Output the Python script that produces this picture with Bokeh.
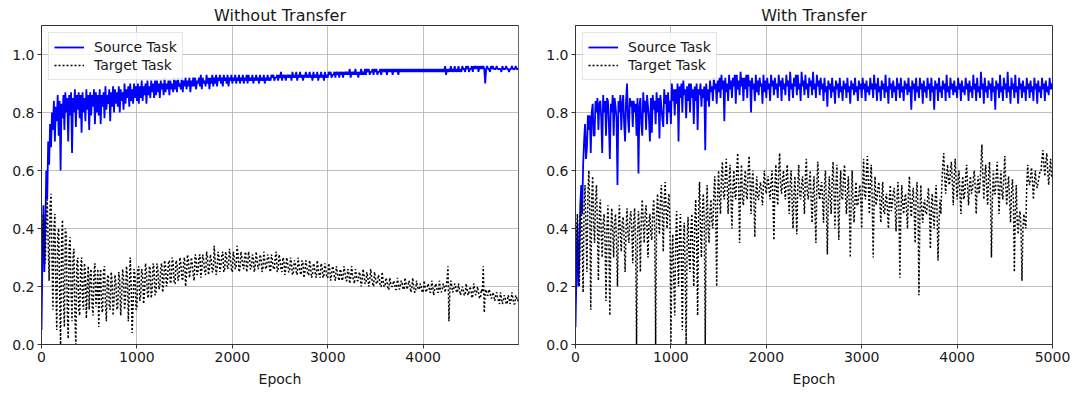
from bokeh.plotting import figure
from bokeh.layouts import row
from bokeh.models import Range1d, FixedTicker, PrintfTickFormatter
from bokeh.embed import file_html
from bokeh.resources import INLINE

STEP = 10  # epochs between stored samples

# ---- Without Transfer ----
left_source = [
    0.05, 0.30, 0.48, 0.25, 0.40, 0.60, 0.50, 0.70, 0.62, 0.76, 0.68, 0.80, 0.74, 0.84, 0.70, 0.82, 0.77, 0.86, 0.72, 0.84,
    0.60, 0.83, 0.78, 0.86, 0.74, 0.87, 0.80, 0.85, 0.70, 0.86, 0.79, 0.87, 0.66, 0.85, 0.80, 0.88, 0.75, 0.86, 0.81, 0.87,
    0.78, 0.86, 0.73, 0.87, 0.80, 0.85, 0.77, 0.88, 0.81, 0.86, 0.74, 0.87, 0.79, 0.86, 0.82, 0.88, 0.76, 0.87, 0.80, 0.86,
    0.79, 0.88, 0.76, 0.86, 0.82, 0.87, 0.78, 0.89, 0.81, 0.86, 0.83, 0.88, 0.77, 0.87, 0.82, 0.89, 0.80, 0.88, 0.83, 0.87,
    0.82, 0.89, 0.80, 0.88, 0.84, 0.87, 0.81, 0.90, 0.83, 0.88, 0.85, 0.89, 0.82, 0.90, 0.84, 0.88, 0.83, 0.90, 0.85, 0.89,
    0.84, 0.90, 0.83, 0.89, 0.85, 0.91, 0.84, 0.89, 0.86, 0.90, 0.83, 0.91, 0.86, 0.89, 0.85, 0.91, 0.87, 0.90, 0.85, 0.91,
    0.86, 0.91, 0.87, 0.90, 0.85, 0.91, 0.88, 0.90, 0.86, 0.92, 0.87, 0.90, 0.88, 0.91, 0.86, 0.91, 0.88, 0.90, 0.87, 0.92,
    0.88, 0.91, 0.87, 0.92, 0.89, 0.90, 0.88, 0.92, 0.87, 0.91, 0.89, 0.92, 0.88, 0.91, 0.89, 0.92, 0.87, 0.91, 0.89, 0.92,
    0.89, 0.92, 0.88, 0.91, 0.90, 0.92, 0.89, 0.93, 0.88, 0.92, 0.90, 0.91, 0.89, 0.93, 0.90, 0.92, 0.88, 0.92, 0.90, 0.93,
    0.89, 0.92, 0.90, 0.93, 0.89, 0.92, 0.91, 0.93, 0.90, 0.92, 0.89, 0.93, 0.91, 0.92, 0.90, 0.93, 0.89, 0.92, 0.91, 0.93,
    0.90, 0.92, 0.91, 0.93, 0.90, 0.92, 0.91, 0.93, 0.90, 0.92, 0.91, 0.93, 0.90, 0.92, 0.91, 0.93, 0.90, 0.93, 0.91, 0.92,
    0.91, 0.93, 0.90, 0.92, 0.91, 0.93, 0.91, 0.92, 0.90, 0.93, 0.91, 0.92, 0.91, 0.93, 0.90, 0.92, 0.91, 0.93, 0.91, 0.92,
    0.91, 0.93, 0.92, 0.93, 0.91, 0.92, 0.92, 0.93, 0.91, 0.93, 0.92, 0.94, 0.91, 0.93, 0.92, 0.93, 0.91, 0.93, 0.92, 0.93,
    0.92, 0.93, 0.91, 0.94, 0.92, 0.93, 0.92, 0.94, 0.91, 0.93, 0.92, 0.94, 0.92, 0.93, 0.91, 0.93, 0.92, 0.94, 0.92, 0.93,
    0.92, 0.94, 0.92, 0.93, 0.91, 0.94, 0.92, 0.93, 0.92, 0.94, 0.91, 0.93, 0.92, 0.94, 0.92, 0.93, 0.91, 0.94, 0.92, 0.93,
    0.92, 0.94, 0.93, 0.94, 0.92, 0.93, 0.93, 0.94, 0.92, 0.94, 0.93, 0.94, 0.92, 0.94, 0.93, 0.94, 0.92, 0.94, 0.93, 0.94,
    0.93, 0.94, 0.93, 0.95, 0.92, 0.94, 0.93, 0.94, 0.93, 0.95, 0.93, 0.94, 0.92, 0.94, 0.93, 0.95, 0.93, 0.94, 0.93, 0.95,
    0.93, 0.95, 0.94, 0.95, 0.93, 0.94, 0.94, 0.95, 0.93, 0.95, 0.94, 0.95, 0.93, 0.94, 0.94, 0.95, 0.93, 0.95, 0.94, 0.95,
    0.94, 0.95, 0.93, 0.95, 0.94, 0.95, 0.94, 0.95, 0.93, 0.95, 0.94, 0.95, 0.94, 0.95, 0.93, 0.95, 0.94, 0.95, 0.94, 0.95,
    0.94, 0.95, 0.94, 0.95, 0.94, 0.95, 0.94, 0.95, 0.94, 0.95, 0.94, 0.95, 0.94, 0.95, 0.94, 0.95, 0.94, 0.95, 0.94, 0.95,
    0.94, 0.95, 0.94, 0.95, 0.94, 0.95, 0.94, 0.95, 0.94, 0.95, 0.94, 0.95, 0.94, 0.95, 0.94, 0.95, 0.94, 0.95, 0.94, 0.95,
    0.94, 0.95, 0.94, 0.96, 0.93, 0.95, 0.94, 0.95, 0.94, 0.96, 0.94, 0.95, 0.94, 0.96, 0.94, 0.95, 0.94, 0.96, 0.94, 0.95,
    0.94, 0.96, 0.95, 0.95, 0.94, 0.96, 0.95, 0.96, 0.94, 0.95, 0.95, 0.96, 0.94, 0.96, 0.95, 0.96, 0.95, 0.96, 0.94, 0.96,
    0.95, 0.96, 0.95, 0.96, 0.95, 0.90, 0.95, 0.96, 0.95, 0.95, 0.94, 0.96, 0.95, 0.96, 0.95, 0.95, 0.95, 0.96, 0.95, 0.95,
    0.95, 0.95, 0.94, 0.96, 0.95, 0.95, 0.95, 0.96, 0.95, 0.95, 0.94, 0.95, 0.95, 0.96, 0.95, 0.95, 0.95, 0.96, 0.95, 0.95,
    0.95,
]
left_target = [
    0.30, 0.40, 0.45, 0.30, 0.28, 0.42, 0.50, 0.35, 0.22, 0.48, 0.52, 0.30, 0.12, 0.40, 0.45, 0.20, 0.05, 0.38, 0.40, 0.18,
    0.00, 0.35, 0.43, 0.15, 0.06, 0.40, 0.38, 0.12, 0.02, 0.34, 0.37, 0.18, 0.08, 0.30, 0.33, 0.10, 0.00, 0.28, 0.30, 0.12,
    0.10, 0.26, 0.30, 0.15, 0.12, 0.28, 0.25, 0.09, 0.20, 0.27, 0.12, 0.24, 0.26, 0.14, 0.10, 0.25, 0.28, 0.13, 0.18, 0.26,
    0.06, 0.22, 0.26, 0.12, 0.11, 0.25, 0.27, 0.14, 0.08, 0.23, 0.24, 0.13, 0.12, 0.25, 0.22, 0.10, 0.15, 0.24, 0.21, 0.12,
    0.13, 0.25, 0.22, 0.10, 0.16, 0.26, 0.23, 0.12, 0.15, 0.27, 0.24, 0.08, 0.18, 0.30, 0.20, 0.04, 0.14, 0.26, 0.24, 0.12,
    0.13, 0.26, 0.27, 0.15, 0.17, 0.26, 0.24, 0.14, 0.18, 0.28, 0.25, 0.17, 0.16, 0.27, 0.26, 0.16, 0.19, 0.28, 0.26, 0.17,
    0.18, 0.28, 0.26, 0.19, 0.20, 0.27, 0.28, 0.18, 0.21, 0.29, 0.27, 0.20, 0.22, 0.28, 0.29, 0.21, 0.22, 0.30, 0.28, 0.21,
    0.21, 0.29, 0.28, 0.22, 0.23, 0.30, 0.28, 0.23, 0.22, 0.29, 0.30, 0.20, 0.24, 0.31, 0.29, 0.23, 0.25, 0.30, 0.28, 0.24,
    0.22, 0.31, 0.30, 0.24, 0.25, 0.30, 0.31, 0.23, 0.26, 0.31, 0.29, 0.25, 0.24, 0.32, 0.30, 0.24, 0.26, 0.31, 0.29, 0.25,
    0.25, 0.34, 0.29, 0.24, 0.26, 0.32, 0.30, 0.25, 0.27, 0.31, 0.32, 0.25, 0.26, 0.32, 0.30, 0.26, 0.27, 0.33, 0.30, 0.26,
    0.25, 0.32, 0.30, 0.26, 0.27, 0.34, 0.31, 0.25, 0.26, 0.32, 0.30, 0.27, 0.26, 0.31, 0.32, 0.25, 0.27, 0.32, 0.30, 0.26,
    0.26, 0.31, 0.30, 0.25, 0.27, 0.32, 0.29, 0.26, 0.27, 0.31, 0.30, 0.25, 0.26, 0.32, 0.29, 0.26, 0.27, 0.31, 0.30, 0.26,
    0.25, 0.31, 0.29, 0.26, 0.26, 0.30, 0.32, 0.25, 0.26, 0.31, 0.29, 0.26, 0.25, 0.30, 0.29, 0.24, 0.26, 0.30, 0.28, 0.25,
    0.25, 0.30, 0.28, 0.24, 0.25, 0.29, 0.28, 0.25, 0.24, 0.30, 0.27, 0.25, 0.24, 0.29, 0.28, 0.23, 0.25, 0.29, 0.27, 0.24,
    0.24, 0.29, 0.27, 0.23, 0.24, 0.28, 0.27, 0.24, 0.23, 0.29, 0.26, 0.24, 0.23, 0.28, 0.27, 0.23, 0.24, 0.28, 0.26, 0.23,
    0.23, 0.28, 0.26, 0.22, 0.24, 0.27, 0.26, 0.23, 0.22, 0.27, 0.25, 0.23, 0.22, 0.26, 0.25, 0.22, 0.23, 0.27, 0.25, 0.22,
    0.22, 0.26, 0.25, 0.21, 0.23, 0.27, 0.24, 0.22, 0.21, 0.26, 0.24, 0.22, 0.22, 0.25, 0.24, 0.20, 0.22, 0.26, 0.24, 0.21,
    0.21, 0.25, 0.23, 0.20, 0.22, 0.26, 0.23, 0.21, 0.20, 0.25, 0.23, 0.21, 0.21, 0.24, 0.23, 0.20, 0.20, 0.25, 0.22, 0.20,
    0.20, 0.23, 0.22, 0.19, 0.19, 0.23, 0.21, 0.20, 0.20, 0.22, 0.21, 0.19, 0.19, 0.23, 0.21, 0.19, 0.20, 0.22, 0.21, 0.19,
    0.19, 0.23, 0.21, 0.19, 0.20, 0.22, 0.21, 0.18, 0.19, 0.23, 0.20, 0.18, 0.18, 0.22, 0.20, 0.19, 0.19, 0.21, 0.20, 0.18,
    0.18, 0.22, 0.20, 0.18, 0.19, 0.21, 0.20, 0.18, 0.18, 0.22, 0.20, 0.17, 0.19, 0.21, 0.20, 0.18, 0.18, 0.22, 0.19, 0.18,
    0.19, 0.21, 0.20, 0.18, 0.20, 0.22, 0.27, 0.08, 0.19, 0.22, 0.20, 0.18, 0.19, 0.21, 0.20, 0.18, 0.18, 0.21, 0.19, 0.17,
    0.18, 0.20, 0.19, 0.17, 0.17, 0.21, 0.19, 0.17, 0.18, 0.20, 0.19, 0.16, 0.17, 0.21, 0.19, 0.17, 0.18, 0.20, 0.18, 0.16,
    0.16, 0.19, 0.18, 0.27, 0.11, 0.18, 0.19, 0.17, 0.17, 0.19, 0.18, 0.16, 0.16, 0.18, 0.17, 0.15, 0.17, 0.18, 0.16, 0.15,
    0.14, 0.18, 0.16, 0.14, 0.15, 0.17, 0.16, 0.14, 0.14, 0.17, 0.16, 0.14, 0.15, 0.18, 0.16, 0.14, 0.14, 0.17, 0.16, 0.15,
    0.16,
]

# ---- With Transfer ----
right_source = [
    0.06, 0.25, 0.42, 0.20, 0.30, 0.48, 0.55, 0.45, 0.62, 0.70, 0.76, 0.64, 0.68, 0.79, 0.74, 0.79, 0.66, 0.80, 0.83, 0.72,
    0.72, 0.84, 0.80, 0.85, 0.74, 0.83, 0.84, 0.78, 0.66, 0.86, 0.80, 0.84, 0.72, 0.85, 0.84, 0.76, 0.64, 0.83, 0.80, 0.86,
    0.72, 0.85, 0.82, 0.78, 0.55, 0.84, 0.80, 0.86, 0.74, 0.83, 0.86, 0.76, 0.70, 0.84, 0.90, 0.78, 0.73, 0.85, 0.82, 0.84,
    0.75, 0.84, 0.80, 0.83, 0.72, 0.85, 0.59, 0.82, 0.85, 0.76, 0.72, 0.87, 0.80, 0.84, 0.74, 0.86, 0.82, 0.78, 0.70, 0.85,
    0.73, 0.86, 0.81, 0.84, 0.76, 0.87, 0.80, 0.85, 0.71, 0.86, 0.82, 0.78, 0.75, 0.88, 0.83, 0.86, 0.76, 0.87, 0.80, 0.84,
    0.76, 0.90, 0.84, 0.88, 0.79, 0.88, 0.83, 0.90, 0.70, 0.89, 0.85, 0.90, 0.80, 0.91, 0.86, 0.88, 0.78, 0.89, 0.84, 0.90,
    0.80, 0.90, 0.85, 0.88, 0.76, 0.89, 0.84, 0.90, 0.74, 0.88, 0.86, 0.90, 0.82, 0.88, 0.85, 0.89, 0.67, 0.90, 0.84, 0.88,
    0.82, 0.91, 0.87, 0.89, 0.84, 0.92, 0.88, 0.90, 0.83, 0.91, 0.87, 0.92, 0.85, 0.93, 0.88, 0.91, 0.77, 0.92, 0.87, 0.90,
    0.84, 0.93, 0.88, 0.91, 0.85, 0.92, 0.89, 0.93, 0.83, 0.93, 0.88, 0.91, 0.86, 0.94, 0.89, 0.92, 0.84, 0.92, 0.88, 0.93,
    0.85, 0.93, 0.89, 0.91, 0.80, 0.92, 0.88, 0.90, 0.84, 0.93, 0.87, 0.91, 0.86, 0.92, 0.89, 0.90, 0.83, 0.93, 0.87, 0.91,
    0.85, 0.92, 0.88, 0.90, 0.84, 0.93, 0.89, 0.91, 0.86, 0.92, 0.88, 0.90, 0.85, 0.93, 0.89, 0.91, 0.84, 0.92, 0.88, 0.90,
    0.86, 0.93, 0.89, 0.91, 0.84, 0.94, 0.88, 0.90, 0.85, 0.92, 0.89, 0.93, 0.86, 0.93, 0.88, 0.90, 0.84, 0.94, 0.89, 0.91,
    0.86, 0.93, 0.88, 0.90, 0.85, 0.92, 0.89, 0.91, 0.86, 0.94, 0.88, 0.90, 0.85, 0.93, 0.89, 0.91, 0.86, 0.92, 0.88, 0.90,
    0.84, 0.92, 0.87, 0.89, 0.82, 0.91, 0.88, 0.90, 0.85, 0.92, 0.87, 0.89, 0.83, 0.91, 0.88, 0.90, 0.85, 0.92, 0.87, 0.89,
    0.84, 0.91, 0.88, 0.90, 0.85, 0.92, 0.87, 0.89, 0.83, 0.91, 0.88, 0.90, 0.86, 0.92, 0.87, 0.89, 0.84, 0.91, 0.88, 0.90,
    0.85, 0.92, 0.88, 0.90, 0.84, 0.91, 0.87, 0.89, 0.86, 0.92, 0.88, 0.90, 0.85, 0.93, 0.88, 0.90, 0.84, 0.92, 0.87, 0.89,
    0.84, 0.91, 0.88, 0.90, 0.85, 0.93, 0.87, 0.89, 0.83, 0.92, 0.88, 0.90, 0.85, 0.91, 0.87, 0.89, 0.84, 0.92, 0.88, 0.90,
    0.85, 0.92, 0.87, 0.89, 0.84, 0.91, 0.88, 0.90, 0.86, 0.92, 0.87, 0.89, 0.81, 0.91, 0.88, 0.90, 0.84, 0.92, 0.87, 0.89,
    0.85, 0.92, 0.88, 0.90, 0.83, 0.91, 0.87, 0.89, 0.85, 0.92, 0.88, 0.90, 0.84, 0.92, 0.87, 0.89, 0.81, 0.91, 0.88, 0.90,
    0.84, 0.92, 0.87, 0.89, 0.85, 0.91, 0.88, 0.90, 0.84, 0.93, 0.87, 0.89, 0.85, 0.92, 0.88, 0.90, 0.86, 0.91, 0.87, 0.89,
    0.85, 0.92, 0.88, 0.90, 0.84, 0.91, 0.87, 0.89, 0.86, 0.92, 0.88, 0.90, 0.84, 0.91, 0.87, 0.89, 0.85, 0.93, 0.88, 0.90,
    0.84, 0.92, 0.87, 0.89, 0.85, 0.94, 0.88, 0.90, 0.83, 0.92, 0.87, 0.89, 0.85, 0.91, 0.88, 0.90, 0.84, 0.92, 0.87, 0.89,
    0.81, 0.91, 0.88, 0.90, 0.85, 0.93, 0.87, 0.89, 0.84, 0.92, 0.88, 0.90, 0.85, 0.94, 0.87, 0.89, 0.83, 0.92, 0.88, 0.90,
    0.85, 0.93, 0.87, 0.89, 0.83, 0.92, 0.88, 0.90, 0.85, 0.91, 0.87, 0.89, 0.84, 0.92, 0.88, 0.90, 0.85, 0.91, 0.87, 0.89,
    0.84, 0.92, 0.88, 0.90, 0.83, 0.91, 0.87, 0.89, 0.85, 0.92, 0.88, 0.90, 0.84, 0.91, 0.87, 0.89, 0.86, 0.92, 0.88, 0.90,
    0.88,
]
right_target = [
    0.25, 0.38, 0.45, 0.30, 0.20, 0.42, 0.50, 0.35, 0.18, 0.48, 0.55, 0.40, 0.25, 0.52, 0.60, 0.45, 0.12, 0.50, 0.58, 0.42,
    0.35, 0.50, 0.55, 0.40, 0.22, 0.45, 0.50, 0.38, 0.30, 0.42, 0.45, 0.35, 0.15, 0.40, 0.48, 0.36, 0.10, 0.38, 0.47, 0.40,
    0.30, 0.42, 0.45, 0.35, 0.20, 0.40, 0.48, 0.38, 0.32, 0.42, 0.44, 0.36, 0.25, 0.40, 0.47, 0.38, 0.35, 0.43, 0.46, 0.40,
    0.28, 0.42, 0.47, 0.35, 0.00, 0.38, 0.46, 0.40, 0.25, 0.44, 0.50, 0.42, 0.35, 0.45, 0.48, 0.40, 0.30, 0.42, 0.45, 0.38,
    0.36, 0.46, 0.50, 0.40, 0.00, 0.45, 0.52, 0.44, 0.38, 0.50, 0.55, 0.45, 0.32, 0.50, 0.56, 0.46, 0.40, 0.48, 0.52, 0.42,
    0.00, 0.30, 0.38, 0.22, 0.10, 0.35, 0.46, 0.30, 0.20, 0.38, 0.45, 0.28, 0.05, 0.35, 0.42, 0.25, 0.00, 0.36, 0.44, 0.30,
    0.25, 0.40, 0.45, 0.32, 0.20, 0.42, 0.50, 0.38, 0.10, 0.45, 0.56, 0.40, 0.30, 0.46, 0.52, 0.42, 0.00, 0.44, 0.55, 0.40,
    0.35, 0.46, 0.50, 0.42, 0.40, 0.52, 0.58, 0.45, 0.20, 0.52, 0.60, 0.50, 0.45, 0.58, 0.63, 0.52, 0.50, 0.58, 0.64, 0.55,
    0.45, 0.56, 0.62, 0.50, 0.40, 0.54, 0.60, 0.52, 0.50, 0.60, 0.66, 0.55, 0.35, 0.55, 0.62, 0.50, 0.48, 0.56, 0.60, 0.52,
    0.50, 0.60, 0.65, 0.55, 0.45, 0.56, 0.60, 0.50, 0.37, 0.52, 0.58, 0.50, 0.50, 0.54, 0.56, 0.52, 0.48, 0.55, 0.60, 0.54,
    0.52, 0.56, 0.58, 0.53, 0.50, 0.56, 0.60, 0.50, 0.36, 0.55, 0.62, 0.52, 0.48, 0.60, 0.66, 0.55, 0.52, 0.57, 0.60, 0.54,
    0.50, 0.58, 0.62, 0.52, 0.45, 0.55, 0.60, 0.50, 0.40, 0.52, 0.58, 0.48, 0.38, 0.55, 0.62, 0.52, 0.50, 0.55, 0.58, 0.52,
    0.45, 0.58, 0.64, 0.52, 0.50, 0.56, 0.60, 0.50, 0.42, 0.52, 0.58, 0.46, 0.35, 0.55, 0.63, 0.52, 0.50, 0.54, 0.56, 0.50,
    0.42, 0.55, 0.60, 0.48, 0.31, 0.50, 0.58, 0.50, 0.45, 0.56, 0.63, 0.52, 0.40, 0.55, 0.62, 0.50, 0.36, 0.52, 0.60, 0.50,
    0.50, 0.58, 0.62, 0.52, 0.45, 0.52, 0.58, 0.48, 0.30, 0.50, 0.60, 0.48, 0.42, 0.50, 0.56, 0.48, 0.48, 0.52, 0.55, 0.50,
    0.40, 0.55, 0.64, 0.52, 0.50, 0.60, 0.65, 0.55, 0.45, 0.56, 0.62, 0.50, 0.30, 0.50, 0.58, 0.48, 0.50, 0.54, 0.56, 0.50,
    0.42, 0.50, 0.56, 0.46, 0.45, 0.50, 0.52, 0.46, 0.40, 0.50, 0.55, 0.46, 0.48, 0.52, 0.54, 0.48, 0.39, 0.50, 0.56, 0.48,
    0.23, 0.45, 0.55, 0.48, 0.45, 0.50, 0.52, 0.46, 0.40, 0.52, 0.58, 0.48, 0.44, 0.50, 0.54, 0.46, 0.35, 0.50, 0.56, 0.48,
    0.17, 0.45, 0.55, 0.46, 0.42, 0.48, 0.50, 0.45, 0.45, 0.50, 0.54, 0.46, 0.33, 0.48, 0.52, 0.44, 0.40, 0.50, 0.55, 0.46,
    0.29, 0.42, 0.50, 0.45, 0.55, 0.62, 0.66, 0.58, 0.52, 0.58, 0.62, 0.56, 0.55, 0.60, 0.63, 0.56, 0.48, 0.58, 0.64, 0.56,
    0.50, 0.56, 0.60, 0.52, 0.45, 0.54, 0.58, 0.50, 0.52, 0.58, 0.62, 0.54, 0.48, 0.55, 0.58, 0.52, 0.53, 0.57, 0.60, 0.54,
    0.45, 0.54, 0.58, 0.52, 0.55, 0.62, 0.69, 0.58, 0.50, 0.58, 0.62, 0.54, 0.48, 0.58, 0.63, 0.52, 0.30, 0.50, 0.60, 0.52,
    0.52, 0.58, 0.63, 0.55, 0.45, 0.55, 0.60, 0.52, 0.50, 0.58, 0.65, 0.55, 0.48, 0.54, 0.58, 0.50, 0.42, 0.52, 0.57, 0.50,
    0.25, 0.45, 0.55, 0.42, 0.38, 0.44, 0.46, 0.40, 0.22, 0.40, 0.45, 0.42, 0.40, 0.55, 0.62, 0.56, 0.55, 0.58, 0.61, 0.56,
    0.50, 0.56, 0.60, 0.55, 0.54, 0.56, 0.58, 0.60, 0.60, 0.64, 0.67, 0.62, 0.58, 0.63, 0.66, 0.60, 0.55, 0.60, 0.64, 0.58,
    0.58,
]

titles = ["Without Transfer", "With Transfer"]
x_max = [4999, 5000]
x_ticks = [0, 1000, 2000, 3000, 4000, 5000]
y_ticks = [0.0, 0.2, 0.4, 0.6, 0.8, 1.0]
series_labels = ["Source Task", "Target Task"]

FONT = "DejaVu Sans"
TXT = "#1a1a1a"


def make_panel(title, xmax, src, tgt, width, b_left, b_right):
    xs_src = [STEP * i for i in range(len(src))]
    xs_tgt = [STEP * i for i in range(len(tgt))]
    p = figure(width=width, height=393, title=title,
               x_range=Range1d(0, xmax), y_range=Range1d(0, 1.1),
               output_backend="svg", toolbar_location=None,
               min_border_left=b_left, min_border_right=b_right,
               min_border_top=25, min_border_bottom=49)
    p.background_fill_color = "white"
    p.border_fill_color = "white"
    p.outline_line_color = "#333333"
    p.outline_line_width = 1

    p.title.text_font = FONT
    p.title.text_font_size = "16px"
    p.title.text_font_style = "normal"
    p.title.text_color = TXT
    p.title.align = "center"
    p.title.standoff = 2

    for ax in (p.xaxis[0], p.yaxis[0]):
        ax.axis_line_color = "#333333"
        ax.major_tick_line_color = "#333333"
        ax.major_tick_out = 4
        ax.major_tick_in = 0
        ax.minor_tick_line_color = None
        ax.major_label_text_font = FONT
        ax.major_label_text_font_size = "14px"
        ax.major_label_text_color = TXT
        ax.major_label_standoff = 3
    p.xaxis.ticker = FixedTicker(ticks=x_ticks)
    p.yaxis.ticker = FixedTicker(ticks=y_ticks)
    p.yaxis.formatter = PrintfTickFormatter(format="%.1f")
    p.xaxis.axis_label = "Epoch"
    p.xaxis.axis_label_text_font = FONT
    p.xaxis.axis_label_text_font_size = "14px"
    p.xaxis.axis_label_text_font_style = "normal"
    p.xaxis.axis_label_text_color = TXT
    p.xaxis.axis_label_standoff = 6

    for g in (p.xgrid[0], p.ygrid[0]):
        g.grid_line_color = "#b0b0b0"
        g.grid_line_alpha = 0.8
        g.grid_line_width = 1

    p.line(xs_src, src, line_color="#0000ff", line_width=1.8,
           legend_label=series_labels[0])
    p.line(xs_tgt, tgt, line_color="black", line_width=1.5,
           line_dash="2 2", legend_label=series_labels[1])

    lg = p.legend[0]
    lg.location = "top_left"
    lg.margin = 7
    lg.padding = 5
    lg.spacing = 0
    lg.glyph_width = 30
    lg.glyph_height = 18
    lg.label_standoff = 10
    lg.label_text_font = FONT
    lg.label_text_font_size = "14px"
    lg.label_text_color = TXT
    lg.label_height = 18
    lg.border_line_color = "#cccccc"
    lg.border_line_width = 1
    lg.background_fill_color = "white"
    lg.background_fill_alpha = 0.8
    return p


p1 = make_panel(titles[0], x_max[0], left_source, left_target, 538, 41, 20)
p2 = make_panel(titles[1], x_max[1], right_source, right_target, 534, 37, 20)
layout = row(p1, p2)

open("out.html", "w").write(file_html(layout, INLINE))
